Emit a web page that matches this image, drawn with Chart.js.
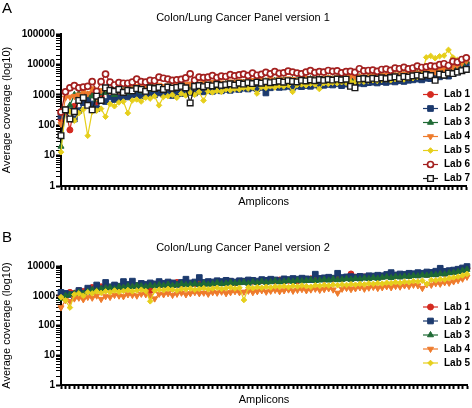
<!DOCTYPE html>
<html>
<head>
<meta charset="utf-8">
<script src="https://cdn.jsdelivr.net/npm/chart.js@4/dist/chart.umd.min.js"></script>
<style>
  body { margin: 0; background: #fff; }
  canvas { display: block; }
</style>
</head>
<body>
<canvas id="chartA" width="472" height="212"></canvas>
<canvas id="chartB" width="472" height="196"></canvas>
<script>
const FONT = '"Liberation Sans", Arial, Helvetica, sans-serif';

// panel A - version 1 (92 amplicons, 7 labs)
const a_lab1 = [160, 330, 70, 420, 850, 1000, 700, 1100, 560, 900,
  1300, 1000, 1100, 1200, 1150, 1300, 1250, 1500, 1400, 1350,
  1600, 1500, 1700, 1550, 1600, 1500, 1700, 1650, 1800, 2000,
  1700, 1900, 2000, 1850, 2100, 1950, 2200, 2100, 2300, 2200,
  2400, 2300, 2500, 2600, 2350, 2700, 2500, 2800, 2600, 2900,
  2700, 3000, 2850, 2600, 2900, 3100, 3000, 2800, 3200, 3000,
  3300, 3100, 3400, 3000, 3200, 3500, 3300, 3600, 3400, 3500,
  3700, 3400, 3800, 3900, 3600, 4100, 4000, 4300, 4000, 4400,
  4700, 4400, 4900, 5200, 5000, 5600, 6200, 5800, 7000, 7600,
  9000, 11500];
const a_lab2 = [200, 300, 300, 160, 300, 550, 650, 500, 350, 650,
  600, 850, 700, 800, 900, 850, 1000, 1050, 950, 1000,
  1100, 1000, 1150, 1050, 1100, 950, 1200, 1100, 1250, 1200,
  1150, 1300, 1250, 1400, 1300, 1450, 1350, 1500, 1400, 1550,
  1500, 1650, 1550, 1700, 1600, 1750, 1150, 1700, 1850, 1750,
  1800, 1900, 1750, 1950, 1850, 2000, 1900, 2100, 1950, 2050,
  2200, 2100, 2300, 2000, 2250, 2350, 2200, 2400, 2300, 2500,
  2600, 2450, 2700, 2550, 2800, 2650, 2900, 2750, 3000, 3100,
  3300, 3100, 3500, 3400, 3700, 3900, 4300, 4100, 5000, 5600,
  7000, 8500];
const a_lab3 = [20, 300, 450, 1000, 1100, 850, 1000, 900, 700, 1150,
  1200, 1400, 1000, 1300, 1350, 1200, 1500, 1450, 1300, 1600,
  1500, 1700, 1600, 1650, 1800, 1550, 1750, 1850, 1700, 1900,
  1950, 1800, 2100, 2000, 1950, 2200, 2100, 2300, 2200, 2400,
  2300, 2500, 2600, 2400, 2700, 2550, 2800, 2650, 2900, 2700,
  3000, 2850, 3100, 2900, 3200, 3000, 3300, 3100, 3400, 3200,
  3500, 3250, 3600, 3400, 3700, 3500, 3300, 3800, 3600, 3900,
  4000, 3800, 4200, 4100, 4400, 4200, 4600, 4500, 4800, 4700,
  5100, 4900, 5400, 5700, 5500, 6300, 6800, 6500, 8000, 8800,
  10500, 12500];
const a_lab4 = [110, 800, 850, 900, 1000, 1300, 1100, 1600, 800, 1400,
  1700, 1300, 1500, 1600, 1450, 1700, 1600, 1900, 1750, 1700,
  2000, 1850, 2100, 1900, 2000, 1850, 2100, 2050, 2200, 2300,
  2100, 2300, 2400, 2250, 2600, 2350, 2500, 2400, 2700, 2550,
  2800, 2650, 2900, 3000, 2750, 3100, 2900, 3200, 3000, 3300,
  3100, 3400, 3250, 3000, 3300, 3500, 3400, 3200, 3600, 3450,
  3700, 3500, 3800, 3400, 3650, 3900, 3700, 4000, 3800, 3950,
  4200, 3900, 4300, 4400, 4100, 4600, 4500, 4900, 4500, 5000,
  5300, 5000, 5600, 6000, 5700, 6500, 7000, 6600, 8200, 9000,
  11000, 13000];
const a_lab5 = [13, 320, 280, 140, 250, 330, 45, 280, 300, 350,
  190, 500, 420, 560, 600, 250, 650, 700, 600, 800,
  750, 900, 450, 850, 900, 1000, 800, 1100, 950, 1200,
  1000, 1250, 650, 1300, 1200, 1350, 1250, 1500, 1400, 1550,
  1500, 1700, 1600, 1750, 1100, 1800, 1700, 1900, 1750, 2000,
  1900, 2100, 1250, 2100, 2200, 2050, 2300, 2200, 1550, 2400,
  2300, 2500, 2400, 2600, 2500, 2700, 2550, 2800, 2700, 2900,
  3000, 2850, 3100, 3200, 3000, 3300, 3400, 3200, 3600, 3500,
  3900, 4300, 17000, 19000, 16000, 18500, 19500, 30000, 17000, 14000,
  13000, 15000];
const a_lab6 = [270, 1250, 1700, 2000, 1700, 1800, 1900, 2700, 1300, 2700,
  4800, 2600, 2100, 2500, 2400, 2400, 2600, 3300, 2700, 2600,
  3000, 2900, 3800, 3500, 3300, 3000, 3100, 3200, 3600, 4900,
  3000, 3800, 3700, 3800, 4300, 3700, 4100, 4000, 4600, 4200,
  4500, 4800, 4300, 5200, 4400, 4700, 5500, 4900, 5800, 5100,
  5300, 6000, 5600, 5200, 4900, 5600, 6200, 5400, 5800, 5600,
  6300, 5900, 6100, 5300, 5800, 5900, 5500, 7200, 6100, 6300,
  6500, 5900, 6800, 7000, 6400, 7500, 7200, 8000, 7100, 7600,
  8800, 7900, 8300, 9000, 8600, 9800, 10500, 9200, 12500, 11800,
  14500, 16500];
const a_lab7 = [45, 320, 160, 280, 650, 800, 450, 320, 900, 650,
  1700, 1400, 1300, 1500, 1200, 1400, 1350, 1600, 1500, 1300,
  1700, 1600, 1750, 1500, 1800, 1650, 1750, 1900, 1700, 540,
  1900, 2000, 1850, 2100, 1950, 2200, 2050, 2150, 2300, 2100,
  2400, 2250, 2500, 2350, 2600, 2400, 2700, 2500, 2650, 2800,
  2600, 2900, 2750, 2650, 3000, 2850, 3100, 2900, 3150, 3000,
  3200, 3050, 3300, 3100, 3250, 1900, 1700, 3300, 3400, 3200,
  3500, 3300, 3600, 3400, 3700, 3900, 3500, 4000, 3800, 4200,
  4400, 4100, 4600, 4300, 3000, 4800, 4400, 5200, 5000, 5600,
  6200, 6800];

// panel B - version 2 (92 amplicons, 5 labs)
const b_lab1 = [1000, 1100, 1300, 1200, 1500, 1400, 1700, 1900, 1800, 2000,
  2100, 1900, 2200, 2000, 2300, 2100, 2400, 2200, 2500, 2300,
  1500, 2400, 2200, 2500, 2300, 2600, 2800, 2400, 2700, 2500,
  2600, 2800, 2500, 2700, 2600, 2900, 2700, 2800, 3000, 2700,
  2900, 3000, 2800, 3100, 2900, 3200, 3000, 3300, 3100, 3400,
  3200, 3300, 3500, 3200, 3600, 3400, 3700, 3500, 3800, 3600,
  3900, 3700, 4000, 3800, 4100, 5400, 4200, 4000, 4300, 4100,
  4400, 4200, 4500, 4700, 4400, 4800, 4600, 5000, 4800, 5200,
  5000, 5400, 5200, 5600, 5400, 5900, 5700, 6300, 6600, 7000,
  7800, 8300];
const b_lab2 = [1300, 1200, 1100, 1000, 1500, 1200, 1800, 1400, 2300, 1700,
  2800, 2000, 2300, 2100, 3000, 2400, 3100, 2200, 2600, 2400,
  2700, 2500, 3000, 2600, 2900, 2700, 2400, 2800, 3600, 2700,
  2900, 4100, 2800, 3000, 2900, 3200, 3000, 3300, 3100, 2900,
  3200, 3100, 3400, 3300, 3100, 3500, 3300, 3600, 3400, 3200,
  3700, 3500, 3800, 3600, 3900, 3700, 3500, 5300, 3800, 4000,
  4200, 3900, 5700, 4100, 4300, 4400, 4100, 4500, 4300, 4700,
  4600, 4900, 4700, 5200, 6000, 5000, 5400, 5200, 5700, 5500,
  6000, 5700, 6300, 6100, 6700, 8400, 6600, 7000, 7300, 7800,
  8600, 9600];
const b_lab3 = [800, 1000, 1100, 1200, 1300, 1200, 1400, 1600, 1500, 1700,
  1800, 1900, 1700, 2000, 1900, 2100, 2000, 2200, 2100, 2000,
  2200, 2100, 2300, 2200, 2400, 2200, 2300, 2500, 2300, 2400,
  2500, 2300, 2600, 2400, 2500, 2700, 2500, 2600, 2800, 2600,
  2700, 2800, 2600, 2900, 2700, 3000, 2800, 2900, 3100, 2900,
  3000, 3200, 3000, 3300, 3100, 3200, 3400, 3200, 3300, 3500,
  3300, 3600, 3400, 3500, 3700, 3500, 3800, 3600, 3900, 3700,
  4000, 3800, 4100, 4300, 4000, 4400, 4200, 4500, 4400, 4700,
  4600, 4900, 4800, 5100, 5000, 5400, 5300, 5800, 6000, 6400,
  7000, 7600];
const b_lab4 = [400, 700, 650, 800, 850, 750, 900, 850, 1000, 770,
  950, 900, 1050, 1000, 950, 1100, 1050, 1000, 1150, 1100,
  1000, 800, 1150, 1100, 1200, 1050, 1150, 1250, 1100, 1200,
  1300, 1200, 1250, 1150, 1300, 1250, 1350, 1200, 1300, 1400,
  1300, 1350, 1450, 1300, 1400, 1500, 1350, 1450, 1550, 1400,
  1500, 1600, 1450, 1550, 1650, 1500, 1600, 1700, 1550, 1650,
  1750, 1600, 1240, 1700, 1800, 1650, 1750, 1900, 1700, 1850,
  1950, 1800, 1900, 2050, 1900, 2100, 2000, 2200, 2100, 2300,
  2200, 1800, 2400, 2300, 2600, 2500, 2800, 2700, 3000, 3300,
  3700, 4300];
const b_lab5 = [900, 700, 400, 1100, 1200, 1000, 1300, 1200, 1400, 1250,
  1400, 1300, 1500, 1350, 1450, 1550, 1400, 1500, 1600, 1450,
  650, 1500, 1600, 1550, 1700, 1600, 1500, 1700, 1650, 1750,
  1600, 1700, 1800, 1650, 1750, 1850, 1700, 1800, 1900, 1750,
  1850, 720, 1900, 1800, 1950, 1850, 2000, 1900, 2050, 2000,
  2100, 1950, 2150, 2050, 2200, 2100, 2000, 2250, 2150, 2300,
  2200, 2350, 2250, 2400, 2300, 2450, 2350, 2500, 2400, 2600,
  2500, 2650, 2550, 2750, 2650, 2850, 2700, 2950, 2850, 3100,
  3000, 3200, 2500, 3400, 3300, 3600, 3500, 3900, 4100, 4400,
  4800, 5400];

const amplicons = a_lab1.map((v, i) => 'Amplicon ' + (i + 1));

const labStyles = [
  { label: 'Lab 1', color: '#d42a20', fill: '#d42a20', style: 'circle', r: 3, bw: 1 },
  { label: 'Lab 2', color: '#1c3a6e', fill: '#1c3a6e', style: 'rect', r: 4, bw: 1 },
  { label: 'Lab 3', color: '#1f6a35', fill: '#1f6a35', style: 'triangle', r: 3.5, bw: 1 },
  { label: 'Lab 4', color: '#ee7b2c', fill: '#ee7b2c', style: 'triangle', r: 3.5, bw: 1, rot: 180 },
  { label: 'Lab 5', color: '#e6cf1c', fill: '#e6cf1c', style: 'rectRot', r: 2.8, bw: 1 },
  { label: 'Lab 6', color: '#a3201f', fill: '#ffffff', style: 'circle', r: 3, bw: 1.7 },
  { label: 'Lab 7', color: '#1a1a1a', fill: '#ffffff', style: 'rect', r: 4, bw: 1.4 }
];

function makeSets(series) {
  return series.map((data, i) => {
    const s = labStyles[i];
    return {
      label: s.label,
      data: data,
      borderColor: s.color,
      backgroundColor: s.color,
      borderWidth: 1.2,
      pointStyle: s.style,
      pointRadius: s.r,
      pointRotation: s.rot || 0,
      pointBackgroundColor: s.fill,
      pointBorderColor: s.color,
      pointBorderWidth: s.bw,
      tension: 0,
      clip: false,
      order: 10 - i
    };
  });
}

// panel letter, title and legend drawn inside the plot
const decor = {
  id: 'decor',
  afterDraw(chart, args, opts) {
    const ctx = chart.ctx;
    ctx.save();
    ctx.fillStyle = '#000';
    ctx.textBaseline = 'middle';
    ctx.textAlign = 'left';
    ctx.font = '15px ' + FONT;
    ctx.fillText(opts.letter, 2, opts.letterY);
    ctx.font = '11px ' + FONT;
    ctx.textAlign = 'center';
    ctx.fillText(opts.title, 243, opts.titleY);
    chart.data.datasets.forEach((ds, i) => {
      const y = opts.legendY + i * 14;
      ctx.strokeStyle = ds.borderColor;
      ctx.lineWidth = 1.2;
      ctx.beginPath();
      ctx.moveTo(423, y);
      ctx.lineTo(438, y);
      ctx.stroke();
      ctx.fillStyle = ds.pointBackgroundColor;
      ctx.strokeStyle = ds.pointBorderColor;
      ctx.lineWidth = ds.pointBorderWidth;
      Chart.helpers.drawPoint(ctx, {
        pointStyle: ds.pointStyle,
        radius: ds.pointRadius,
        rotation: ds.pointRotation,
        borderWidth: ds.pointBorderWidth
      }, 430.5, y);
      ctx.fillStyle = '#000';
      ctx.font = 'bold 10px ' + FONT;
      ctx.textAlign = 'left';
      ctx.fillText(ds.label, 444, y);
    });
    ctx.restore();
  }
};

function isDecade(v) {
  const l = Math.log10(v);
  return Math.abs(l - Math.round(l)) < 1e-9;
}

function makeChart(id, series, yMax, o) {
  return new Chart(document.getElementById(id), {
    type: 'line',
    data: { labels: amplicons, datasets: makeSets(series) },
    options: {
      responsive: false,
      animation: false,
      layout: { padding: { top: o.top, right: 2, left: 0, bottom: 0 } },
      plugins: {
        legend: { display: false },
        tooltip: { enabled: false },
        decor: { letter: o.letter, letterY: o.letterY, title: o.title, titleY: o.titleY, legendY: o.legendY }
      },
      scales: {
        x: {
          type: 'category',
          offset: false,
          border: { display: true, color: '#000', width: 2 },
          grid: { drawOnChartArea: false, drawTicks: true, tickLength: 4, tickWidth: 2, tickColor: '#000' },
          ticks: { display: false, autoSkip: false },
          title: { display: true, text: 'Amplicons', color: '#000', font: { family: FONT, size: 11 }, padding: { top: 0, bottom: o.xTitlePad } },
          afterFit(scale) { scale.height = o.xHeight; }
        },
        y: {
          type: 'logarithmic',
          min: 1,
          max: yMax,
          border: { display: true, color: '#000', width: 2 },
          grid: {
            drawOnChartArea: false,
            drawTicks: true,
            tickLength: 5,
            tickColor: '#000',
            tickWidth: (c) => (c.tick && isDecade(c.tick.value) ? 2 : 1)
          },
          ticks: {
            autoSkip: false,
            padding: 1,
            color: '#000',
            font: { family: FONT, size: 10, weight: 'bold' },
            callback: (v) => (isDecade(v) ? String(Math.round(v)) : '')
          },
          title: { display: true, text: 'Average coverage (log10)', color: '#000', font: { family: FONT, size: 11 }, padding: { top: 0, bottom: 0 } },
          afterFit(scale) { scale.width = 61; }
        }
      }
    },
    plugins: [decor]
  });
}

makeChart('chartA', [a_lab1, a_lab2, a_lab3, a_lab4, a_lab5, a_lab6, a_lab7], 100000, {
  top: 34, xHeight: 26, xTitlePad: 3,
  letter: 'A', letterY: 8.5,
  title: 'Colon/Lung Cancer Panel version 1', titleY: 18,
  legendY: 94.5
});

makeChart('chartB', [b_lab1, b_lab2, b_lab3, b_lab4, b_lab5], 10000, {
  top: 54, xHeight: 23, xTitlePad: 1,
  letter: 'B', letterY: 25.5,
  title: 'Colon/Lung Cancer Panel version 2', titleY: 35.5,
  legendY: 95
});
</script>
</body>
</html>
